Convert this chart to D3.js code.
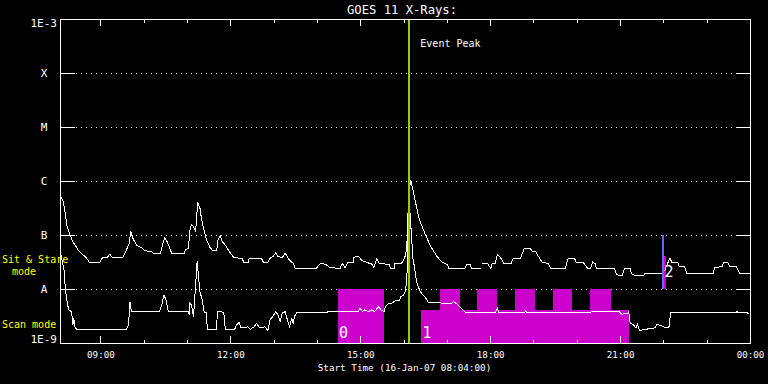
<!DOCTYPE html>
<html>
<head>
<meta charset="utf-8">
<script src="https://cdn.jsdelivr.net/npm/d3@7"></script>
<style>
html, body { margin: 0; padding: 0; background: #000; }
svg { display: block; }
text { font-family: "DejaVu Sans Mono", monospace; fill: #fff; }
</style>
</head>
<body>
<svg id="chart" width="768" height="384"></svg>
<script>
// GOES 11 long channel (1-8 A), W/m^2
var longFlux = [
  ["08:05",5.1e-7],["08:08",4.4e-7],["08:10",3.2e-7],["08:12",2.1e-7],["08:14",1.4e-7],["08:18",1.0e-7],
  ["08:22",7.4e-8],["08:25",6.5e-8],["08:29",5.3e-8],["08:34",4.5e-8],["08:39",4.0e-8],["08:45",3.1e-8],
  ["08:59",3.1e-8],["09:03",3.8e-8],["09:09",3.8e-8],["09:13",4.4e-8],["09:17",3.8e-8],["09:31",3.8e-8],
  ["09:36",5.3e-8],["09:40",7.0e-8],["09:42",1.2e-7],["09:45",8.7e-8],["09:50",6.5e-8],["09:57",5.8e-8],
  ["10:02",5.1e-8],["10:11",4.9e-8],["10:14",4.5e-8],["10:23",4.5e-8],["10:26",6.5e-8],["10:29",8.9e-8],
  ["10:33",7.3e-8],["10:39",4.5e-8],["10:56",4.5e-8],["10:58",5.3e-8],["11:02",5.7e-8],["11:04",1.24e-7],
  ["11:06",1.53e-7],["11:09",1.43e-7],["11:12",1.15e-7],["11:13",2.0e-7],["11:15",4.0e-7],["11:18",3.1e-7],
  ["11:20",2.0e-7],["11:24",1.15e-7],["11:27",8.1e-8],["11:32",5.8e-8],["11:36",5.1e-8],["11:41",5.1e-8],
  ["11:43",8.1e-8],["11:46",9.7e-8],["11:49",7.5e-8],["11:53",6.5e-8],["11:57",5.3e-8],["12:02",4.3e-8],
  ["12:05",3.8e-8],["12:16",3.7e-8],["12:19",3.1e-8],["12:25",3.1e-8],["12:26",3.7e-8],["12:43",3.7e-8],
  ["12:46",3.1e-8],["12:52",3.1e-8],["12:55",3.7e-8],["12:59",4.0e-8],["13:03",4.7e-8],["13:06",4.0e-8],
  ["13:12",3.8e-8],["13:16",4.6e-8],["13:22",3.4e-8],["13:27",3.0e-8],["13:30",2.4e-8],["13:59",2.4e-8],
  ["14:03",2.8e-8],["14:05",3.0e-8],["14:10",2.9e-8],["14:13",2.8e-8],["14:18",2.5e-8],["14:32",2.4e-8],
  ["14:35",3.0e-8],["14:39",2.5e-8],["14:43",3.1e-8],["14:50",3.1e-8],["14:51",3.8e-8],["14:57",4.1e-8],
  ["15:02",3.4e-8],["15:09",3.1e-8],["15:16",2.9e-8],["15:19",2.5e-8],["15:23",3.7e-8],["15:26",3.0e-8],
  ["15:34",2.9e-8],["15:40",2.8e-8],["15:42",2.4e-8],["15:47",2.4e-8],["15:48",3.0e-8],["15:57",3.0e-8],
  ["16:00",3.4e-8],["16:03",4.3e-8],["16:05",8.1e-8],["16:06",2.3e-7],["16:08",7.3e-7],["16:10",1.04e-6],
  ["16:13",6.8e-7],["16:18",3.3e-7],["16:22",1.9e-7],["16:31",9.6e-8],["16:38",6.0e-8],["16:47",3.9e-8],
  ["16:54",3.1e-8],["17:01",2.8e-8],["17:03",2.4e-8],["17:25",2.4e-8],["17:28",2.9e-8],["17:32",2.9e-8],
  ["17:34",2.4e-8],["17:47",2.4e-8],["17:48",null],["17:49",3.0e-8],["17:56",3.0e-8],["18:01",2.4e-8],
  ["18:03",3.0e-8],["18:07",3.0e-8],["18:10",4.3e-8],["18:13",4.0e-8],["18:15",3.7e-8],["18:19",3.0e-8],
  ["18:29",3.0e-8],["18:32",3.7e-8],["18:42",3.7e-8],["18:47",5.5e-8],["18:55",5.7e-8],["18:59",4.9e-8],
  ["19:03",4.9e-8],["19:07",4.0e-8],["19:12",3.1e-8],["19:20",3.0e-8],["19:24",2.4e-8],["19:44",2.4e-8],
  ["19:48",3.7e-8],["19:57",3.7e-8],["19:59",3.1e-8],["20:09",3.1e-8],["20:15",2.4e-8],["20:19",2.4e-8],
  ["20:22",3.2e-8],["20:26",2.9e-8],["20:27",2.4e-8],["20:52",2.4e-8],["20:55",1.9e-8],["20:58",1.8e-8],
  ["21:03",1.8e-8],["21:06",2.4e-8],["21:14",2.4e-8],["21:16",1.9e-8],["21:20",1.8e-8],["21:33",1.8e-8],
  ["21:34",1.9e-8],["21:57",1.9e-8],["22:02",2.2e-8],["22:04",2.6e-8],["22:09",3.7e-8],["22:12",3.1e-8],
  ["22:20",3.1e-8],["22:22",2.6e-8],["22:29",2.6e-8],["22:33",1.9e-8],["23:09",1.9e-8],["23:11",2.5e-8],
  ["23:22",2.6e-8],["23:23",3.1e-8],["23:29",3.1e-8],["23:32",2.6e-8],["23:41",2.6e-8],["23:46",1.9e-8],
  ["24:00",1.9e-8]
];

// GOES 11 short channel (0.5-4 A), W/m^2
var shortFlux = [
  ["08:05",4.5e-8],["08:10",2.1e-8],["08:11",1.2e-8],["08:13",6.7e-9],["08:16",4.1e-9],["08:20",3.8e-9],
  ["08:22",2.2e-9],["08:23",2.9e-9],["08:25",1.9e-9],["08:27",1.8e-9],["09:36",1.8e-9],["09:39",2.2e-9],
  ["09:41",5.8e-9],["09:43",3.8e-9],["10:22",3.8e-9],["10:25",5.1e-9],["10:28",7.7e-9],["10:31",6.3e-9],
  ["10:34",3.8e-9],["11:02",3.8e-9],["11:03",3.3e-9],["11:04",5.4e-9],["11:06",5.1e-9],["11:09",3.1e-9],
  ["11:11",7.7e-9],["11:14",3.3e-8],["11:16",1.6e-8],["11:18",8.9e-9],["11:21",6.3e-9],["11:24",3.6e-9],
  ["11:27",3.6e-9],["11:28",1.8e-9],["11:41",1.8e-9],["11:42",3.8e-9],["11:46",3.9e-9],["11:51",3.6e-9],
  ["11:53",1.8e-9],["12:06",1.8e-9],["12:09",2.2e-9],["12:12",2.4e-9],["12:15",1.9e-9],["12:20",1.9e-9],
  ["12:24",2.0e-9],["12:28",1.8e-9],["12:33",2.0e-9],["12:36",2.3e-9],["12:41",1.9e-9],["12:48",2.0e-9],
  ["12:52",1.7e-9],["12:55",2.7e-9],["12:59",3.1e-9],["13:03",3.8e-9],["13:06",3.3e-9],["13:09",2.5e-9],
  ["13:12",3.6e-9],["13:16",3.8e-9],["13:19",2.7e-9],["13:22",2.0e-9],["13:25",2.9e-9],["13:27",2.3e-9],
  ["13:29",3.1e-9],["13:32",3.7e-9],["14:57",3.8e-9],["15:00",4.4e-9],["15:03",3.8e-9],["15:06",4.1e-9],
  ["15:11",3.8e-9],["15:16",4.1e-9],["15:20",3.8e-9],["15:25",4.7e-9],["15:29",4.1e-9],["15:33",3.8e-9],
  ["15:35",4.7e-9],["15:39",5.4e-9],["15:43",5.4e-9],["15:48",6.0e-9],["15:54",6.0e-9],["15:56",7.2e-9],
  ["16:00",7.7e-9],["16:03",9.6e-9],["16:05",2.1e-8],["16:06",8.0e-8],["16:07",4.4e-7],["16:09",2.5e-7],
  ["16:11",9.6e-8],["16:13",3.7e-8],["16:15",2.6e-8],["16:17",1.7e-8],["16:19",1.2e-8],["16:24",8.6e-9],
  ["16:30",7.1e-9],["16:34",5.7e-9],["16:47",5.7e-9],["16:54",5.4e-9],["17:06",5.4e-9],["17:09",5.8e-9],
  ["17:13",5.4e-9],["17:18",4.7e-9],["17:22",4.1e-9],["17:26",3.7e-9],["17:30",3.6e-9],["18:07",3.6e-9],
  ["18:10",4.4e-9],["18:12",3.6e-9],["18:47",3.6e-9],["18:49",3.9e-9],["18:52",3.6e-9],["19:40",3.7e-9],
  ["20:59",3.8e-9],["21:02",3.4e-9],["21:11",3.6e-9],["21:12",3.8e-9],["21:14",2.3e-9],["21:18",2.2e-9],
  ["21:22",1.9e-9],["21:24",2.2e-9],["21:27",1.7e-9],["21:36",1.8e-9],["21:48",1.9e-9],["21:51",2.2e-9],
  ["21:57",2.1e-9],["22:04",1.9e-9],["22:08",2.0e-9],["22:10",3.7e-9],["23:41",3.7e-9],["23:42",3.9e-9],
  ["23:43",3.7e-9],["23:55",3.7e-9],["23:59",3.4e-9]
];

// observing intervals: start, end, lower flux, upper flux
var obsBlocks = [
  ["14:29","15:33",1e-9,1e-8],
  ["16:24","21:13",1e-9,4.1e-9],
  ["16:50","17:18",1e-9,1e-8],
  ["17:42","18:10",1e-9,1e-8],
  ["18:34","19:02",1e-9,1e-8],
  ["19:27","19:54",1e-9,1e-8],
  ["20:19","20:47",1e-9,1e-8],
  ["22:00","22:03",1e-8,4.1e-8]
];
var obsLabels = [["0","14:29",1.25e-9],["1","16:25",1.25e-9],["2","22:00",1.65e-8]];

var sitStareMark = ["21:59",1e-8,1e-7];
var eventPeak = "16:08";

var levelValues = [1e-9,1e-8,1e-7,1e-6,1e-5,1e-4,1e-3];
var levelNames = ["1E-9","A","B","C","M","X","1E-3"];

function parseT(s) {
  var p = s.split(":");
  return new Date(2007, 0, 16, +p[0], +p[1]);
}

var svg = d3.select("#chart");
var plotLeft = 60, plotRight = 750, plotTop = 19, plotBottom = 343;

svg.append("rect").attr("width", 768).attr("height", 384).attr("fill", "#000");

var x = d3.scaleTime()
  .domain([new Date(2007, 0, 16, 8, 4), new Date(2007, 0, 17, 0, 0)])
  .range([plotLeft, plotRight]);
var y = d3.scaleLog().domain([1e-9, 1e-3]).range([plotBottom, plotTop]);

// dotted level lines
svg.selectAll(".grid")
  .data(levelValues.slice(1, -1))
  .enter()
  .append("line")
  .attr("x1", plotLeft + 16)
  .attr("x2", plotRight - 14)
  .attr("y1", function (d) { return y(d); })
  .attr("y2", function (d) { return y(d); })
  .attr("stroke", "#fff")
  .attr("stroke-dasharray", "1,4")
  .attr("shape-rendering", "crispEdges");

// observation blocks
svg.selectAll(".obs")
  .data(obsBlocks)
  .enter()
  .append("rect")
  .attr("x", function (d) { return x(parseT(d[0])); })
  .attr("width", function (d) { return x(parseT(d[1])) - x(parseT(d[0])); })
  .attr("y", function (d) { return y(d[3]); })
  .attr("height", function (d) { return y(d[2]) - y(d[3]); })
  .attr("fill", "#cc00cc")
  .attr("shape-rendering", "crispEdges");

var line = d3.line()
  .defined(function (d) { return d[1] != null; })
  .x(function (d) { return x(parseT(d[0])); })
  .y(function (d) { return y(d[1]); });

[longFlux, shortFlux].forEach(function (series) {
  svg.append("path")
    .datum(series)
    .attr("d", line)
    .attr("fill", "none")
    .attr("stroke", "#fff")
    .attr("stroke-width", 1)
    .attr("shape-rendering", "crispEdges");
});

svg.selectAll(".obslabel")
  .data(obsLabels)
  .enter()
  .append("text")
  .attr("x", function (d) { return x(parseT(d[1])) + 1; })
  .attr("y", function (d) { return y(d[2]); })
  .attr("font-size", 15)
  .text(function (d) { return d[0]; });

// event peak
svg.append("line")
  .attr("x1", x(parseT(eventPeak)))
  .attr("x2", x(parseT(eventPeak)))
  .attr("y1", plotTop)
  .attr("y2", plotBottom)
  .attr("stroke", "#9acd00")
  .attr("stroke-width", 2)
  .attr("shape-rendering", "crispEdges");
svg.append("text")
  .attr("x", x(parseT(eventPeak)) + 11)
  .attr("y", 47)
  .attr("font-size", 10)
  .text("Event Peak");

// sit & stare marker
svg.append("line")
  .attr("x1", x(parseT(sitStareMark[0])))
  .attr("x2", x(parseT(sitStareMark[0])))
  .attr("y1", y(sitStareMark[1]))
  .attr("y2", y(sitStareMark[2]))
  .attr("stroke", "#6666ff")
  .attr("stroke-width", 2)
  .attr("shape-rendering", "crispEdges");

// axes
var xMajor = d3.timeHour.every(3);
var xMinor = d3.timeHour.every(1);

function styleAxis(g) {
  g.attr("color", "#fff").attr("shape-rendering", "crispEdges");
  g.select(".domain").remove();
}

svg.append("g")
  .attr("transform", "translate(0," + plotBottom + ")")
  .call(d3.axisBottom(x).ticks(xMinor).tickSize(-3.5).tickSizeOuter(0).tickFormat(""))
  .call(styleAxis);
svg.append("g")
  .attr("transform", "translate(0," + plotTop + ")")
  .call(d3.axisTop(x).ticks(xMinor).tickSize(-3.5).tickSizeOuter(0).tickFormat(""))
  .call(styleAxis);
svg.append("g")
  .attr("transform", "translate(0," + plotTop + ")")
  .call(d3.axisTop(x).ticks(xMajor).tickSize(-7).tickSizeOuter(0).tickFormat(""))
  .call(styleAxis);

var bottomAxis = svg.append("g")
  .attr("transform", "translate(0," + plotBottom + ")")
  .call(d3.axisBottom(x).ticks(xMajor).tickSize(-7).tickSizeOuter(0).tickFormat(d3.timeFormat("%H:%M")))
  .call(styleAxis);
bottomAxis.selectAll("text")
  .attr("y", 15)
  .attr("dy", null)
  .attr("font-size", 9.2)
  .attr("font-family", "DejaVu Sans Mono, monospace");

svg.append("g")
  .attr("transform", "translate(" + plotLeft + ",0)")
  .call(d3.axisLeft(y).tickValues(levelValues).tickSize(-15).tickSizeOuter(0).tickFormat(""))
  .call(styleAxis);
svg.append("g")
  .attr("transform", "translate(" + plotRight + ",0)")
  .call(d3.axisRight(y).tickValues(levelValues).tickSize(-14).tickSizeOuter(0).tickFormat(""))
  .call(styleAxis);

svg.append("rect")
  .attr("x", plotLeft)
  .attr("y", plotTop)
  .attr("width", plotRight - plotLeft)
  .attr("height", plotBottom - plotTop)
  .attr("fill", "none")
  .attr("stroke", "#fff")
  .attr("shape-rendering", "crispEdges");

// level labels
var lastLvl = levelValues.length - 1;
svg.selectAll(".lvl")
  .data(levelValues)
  .enter()
  .append("text")
  .attr("font-size", 11)
  .attr("text-anchor", function (d, i) { return i == 0 || i == lastLvl ? "end" : "middle"; })
  .attr("x", function (d, i) { return i == 0 || i == lastLvl ? plotLeft - 3 : 44; })
  .attr("y", function (d, i) {
    if (i == 0) return y(d);
    if (i == lastLvl) return y(d) + 8;
    return y(d) + 4;
  })
  .text(function (d, i) { return levelNames[i]; });

// titles
svg.append("text")
  .attr("x", (plotLeft + plotRight) / 2 - 3)
  .attr("y", 14)
  .attr("text-anchor", "middle")
  .attr("font-size", 12.2)
  .text("GOES 11 X-Rays:");
svg.append("text")
  .attr("x", 404.5)
  .attr("y", 371)
  .attr("text-anchor", "middle")
  .attr("font-size", 9.3)
  .text("Start Time (16-Jan-07 08:04:00)");

// mode labels
svg.append("text").attr("x", 2).attr("y", 263).attr("font-size", 10).style("fill", "#ffff00").text("Sit & Stare");
svg.append("text").attr("x", 12).attr("y", 275).attr("font-size", 10).style("fill", "#ffff00").text("mode");
svg.append("text").attr("x", 2).attr("y", 328).attr("font-size", 10).style("fill", "#ffff00").text("Scan mode");
</script>
</body>
</html>
